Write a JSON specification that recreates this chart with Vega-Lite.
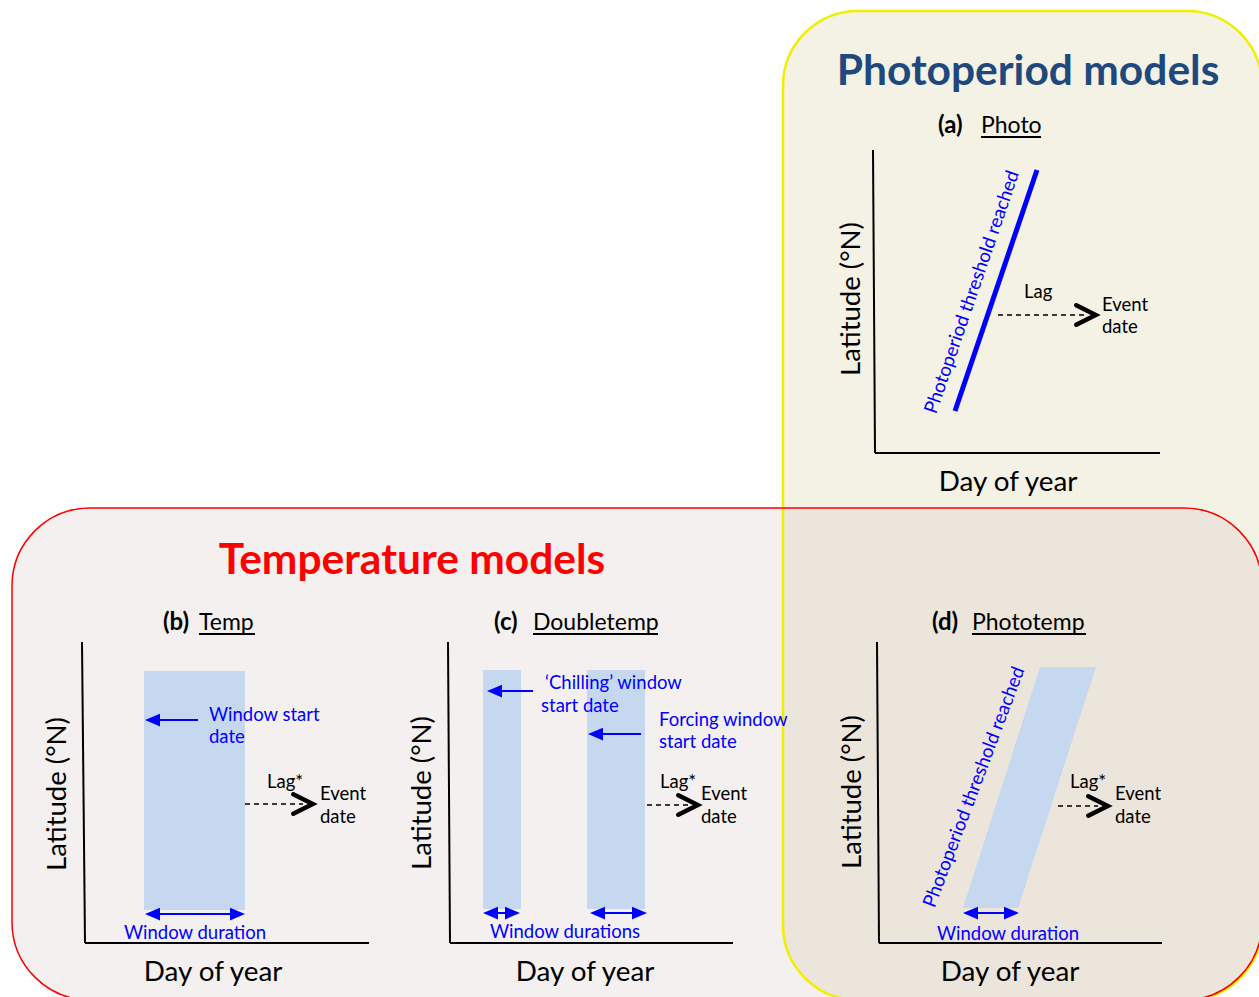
{
  "$schema": "https://vega.github.io/schema/vega-lite/v6.json",
  "width": 1259,
  "height": 997,
  "padding": 0,
  "autosize": "none",
  "background": "white",
  "config": {"view": {"stroke": null}, "text": {"font": "Lato"}},
  "datasets": {
    "boxY": [{"x": 783, "y": 11, "x2": 1262, "y2": 1000}],
    "boxR": [{"x": 12, "y": 508, "x2": 1262, "y2": 1000}],
    "axes": [
      {"x": 873, "y": 150, "x2": 875, "y2": 453}, {"x": 875, "y": 453, "x2": 1160, "y2": 453},
      {"x": 82, "y": 642, "x2": 85, "y2": 943}, {"x": 85, "y": 943, "x2": 369, "y2": 943},
      {"x": 448, "y": 642, "x2": 450, "y2": 943}, {"x": 450, "y": 943, "x2": 733, "y2": 943},
      {"x": 877, "y": 642, "x2": 879, "y2": 943}, {"x": 879, "y": 943, "x2": 1162, "y2": 943}
    ],
    "bars": [
      {"x": 144, "y": 671, "x2": 245, "y2": 910},
      {"x": 483, "y": 670, "x2": 521, "y2": 909},
      {"x": 587, "y": 670, "x2": 645, "y2": 909}
    ],
    "para": [{"y": 667, "x": 1040, "x2": 1096}, {"y": 908, "x": 963, "x2": 1018}],
    "photoLine": [{"x": 955, "y": 411, "x2": 1037, "y2": 170}],
    "dash": [
      {"x": 998, "y": 315, "x2": 1086, "y2": 315},
      {"x": 245, "y": 804, "x2": 303, "y2": 804},
      {"x": 647, "y": 805, "x2": 688, "y2": 805},
      {"x": 1058, "y": 806, "x2": 1098, "y2": 806}
    ],
    "chev": [{"x": 1086, "y": 315}, {"x": 303, "y": 804}, {"x": 688, "y": 805}, {"x": 1098, "y": 806}],
    "blueLines": [
      {"x": 150, "y": 720, "x2": 198, "y2": 720},
      {"x": 490, "y": 691, "x2": 533, "y2": 691},
      {"x": 592, "y": 734, "x2": 641, "y2": 734},
      {"x": 148, "y": 914, "x2": 242, "y2": 914},
      {"x": 486, "y": 913, "x2": 517, "y2": 913},
      {"x": 593, "y": 913, "x2": 644, "y2": 913},
      {"x": 966, "y": 913, "x2": 1016, "y2": 913}
    ],
    "headL": [
      {"x": 152.5, "y": 720}, {"x": 494.5, "y": 691}, {"x": 595.5, "y": 734},
      {"x": 152.5, "y": 914}, {"x": 490.5, "y": 913}, {"x": 597.5, "y": 913}, {"x": 970.5, "y": 913}
    ],
    "headR": [{"x": 237.5, "y": 914}, {"x": 512.5, "y": 913}, {"x": 639.5, "y": 913}, {"x": 1011.5, "y": 913}],
    "blackText": [
      {"x": 1024, "y": 292, "t": "Lag"}, {"x": 1102, "y": 305, "t": "Event"}, {"x": 1102, "y": 327, "t": "date"},
      {"x": 267, "y": 782, "t": "Lag*"}, {"x": 320, "y": 794, "t": "Event"}, {"x": 320, "y": 817, "t": "date"},
      {"x": 660, "y": 782, "t": "Lag*"}, {"x": 701, "y": 794, "t": "Event"}, {"x": 701, "y": 817, "t": "date"},
      {"x": 1070, "y": 782, "t": "Lag*"}, {"x": 1115, "y": 794, "t": "Event"}, {"x": 1115, "y": 817, "t": "date"}
    ],
    "blueText": [
      {"x": 209, "y": 715, "t": "Window start"}, {"x": 209, "y": 737, "t": "date"},
      {"x": 545, "y": 683, "t": "‘Chilling’ window"}, {"x": 541, "y": 706, "t": "start date"},
      {"x": 659, "y": 720, "t": "Forcing window"}, {"x": 659, "y": 742, "t": "start date"},
      {"x": 124, "y": 933, "t": "Window duration"},
      {"x": 490, "y": 932, "t": "Window durations"},
      {"x": 937, "y": 934, "t": "Window duration"}
    ],
    "axisX": [
      {"x": 1008, "y": 483, "t": "Day of year"}, {"x": 213, "y": 973, "t": "Day of year"},
      {"x": 585, "y": 973, "t": "Day of year"}, {"x": 1010, "y": 973, "t": "Day of year"}
    ],
    "axisY": [
      {"x": 852, "y": 299, "t": "Latitude (°N)"}, {"x": 58, "y": 794, "t": "Latitude (°N)"},
      {"x": 423, "y": 793, "t": "Latitude (°N)"}, {"x": 853, "y": 792, "t": "Latitude (°N)"}
    ],
    "panLab": [
      {"x": 938, "y": 126, "t": "(a)"}, {"x": 163, "y": 623, "t": "(b)"},
      {"x": 494, "y": 623, "t": "(c)"}, {"x": 932, "y": 623, "t": "(d)"}
    ],
    "panName": [
      {"x": 981, "y": 126, "t": "Photo"}, {"x": 199, "y": 623, "t": "Temp"},
      {"x": 533, "y": 623, "t": "Doubletemp"}, {"x": 972, "y": 623, "t": "Phototemp"}
    ],
    "underline": [
      {"x": 981, "y": 137, "x2": 1041, "y2": 137}, {"x": 199, "y": 634, "x2": 255, "y2": 634},
      {"x": 533, "y": 634, "x2": 658, "y2": 634}, {"x": 972, "y": 634, "x2": 1086, "y2": 634}
    ],
    "rot1": [{"x": 972, "y": 292, "t": "Photoperiod threshold reached"}],
    "rot2": [{"x": 974, "y": 787, "t": "Photoperiod threshold reached"}],
    "title1": [{"x": 1028, "y": 72, "t": "Photoperiod models"}],
    "title2": [{"x": 412, "y": 561, "t": "Temperature models"}]
  },
  "encoding": {
    "x": {"field": "x", "type": "quantitative", "scale": {"domain": [0, 1259], "nice": false, "zero": false}, "axis": null},
    "y": {"field": "y", "type": "quantitative", "scale": {"domain": [0, 997], "nice": false, "zero": false, "reverse": true}, "axis": null}
  },
  "layer": [
    {"data": {"name": "boxY"}, "mark": {"type": "rect", "fill": "#f4f1e5", "cornerRadius": 75},
     "encoding": {"x2": {"field": "x2"}, "y2": {"field": "y2"}}},
    {"data": {"name": "boxR"}, "mark": {"type": "rect", "fill": "#cfc3bf", "fillOpacity": 0.25, "cornerRadius": 78},
     "encoding": {"x2": {"field": "x2"}, "y2": {"field": "y2"}}},
    {"data": {"name": "boxY"}, "mark": {"type": "rect", "fill": null, "fillOpacity": 0, "stroke": "#f2ee00", "strokeWidth": 2.5, "cornerRadius": 75},
     "encoding": {"x2": {"field": "x2"}, "y2": {"field": "y2"}}},
    {"data": {"name": "boxR"}, "mark": {"type": "rect", "fill": null, "fillOpacity": 0, "stroke": "#ff0000", "strokeWidth": 1.5, "cornerRadius": 78},
     "encoding": {"x2": {"field": "x2"}, "y2": {"field": "y2"}}},
    {"data": {"name": "bars"}, "mark": {"type": "rect", "fill": "#c6d8f0"},
     "encoding": {"x2": {"field": "x2"}, "y2": {"field": "y2"}}},
    {"data": {"name": "para"}, "mark": {"type": "area", "orient": "horizontal", "fill": "#c6d8f0"},
     "encoding": {"x2": {"field": "x2"}}},
    {"data": {"name": "axes"}, "mark": {"type": "rule", "color": "#000000", "strokeWidth": 2},
     "encoding": {"x2": {"field": "x2"}, "y2": {"field": "y2"}}},
    {"data": {"name": "photoLine"}, "mark": {"type": "rule", "color": "#0000ff", "strokeWidth": 5},
     "encoding": {"x2": {"field": "x2"}, "y2": {"field": "y2"}}},
    {"data": {"name": "dash"}, "mark": {"type": "rule", "color": "#000000", "strokeWidth": 1.6, "strokeDash": [5, 4]},
     "encoding": {"x2": {"field": "x2"}, "y2": {"field": "y2"}}},
    {"data": {"name": "chev"}, "mark": {"type": "point", "shape": "M-1,-1L1,0L-1,1", "filled": false, "size": 380, "stroke": "#000000", "strokeWidth": 4.5, "strokeJoin": "miter", "strokeCap": "round", "opacity": 1}},
    {"data": {"name": "blueLines"}, "mark": {"type": "rule", "color": "#0000ff", "strokeWidth": 2},
     "encoding": {"x2": {"field": "x2"}, "y2": {"field": "y2"}}},
    {"data": {"name": "headL"}, "mark": {"type": "point", "shape": "M-1,0L1,-0.85L1,0.85Z", "filled": true, "size": 225, "fill": "#0000ff", "opacity": 1}},
    {"data": {"name": "headR"}, "mark": {"type": "point", "shape": "M1,0L-1,-0.85L-1,0.85Z", "filled": true, "size": 225, "fill": "#0000ff", "opacity": 1}},
    {"data": {"name": "blackText"}, "mark": {"type": "text", "align": "left", "baseline": "middle", "fontSize": 18.5, "color": "#000000"},
     "encoding": {"text": {"field": "t"}}},
    {"data": {"name": "blueText"}, "mark": {"type": "text", "align": "left", "baseline": "middle", "fontSize": 18.5, "color": "#0000ff"},
     "encoding": {"text": {"field": "t"}}},
    {"data": {"name": "axisX"}, "mark": {"type": "text", "align": "center", "baseline": "middle", "fontSize": 27.8, "color": "#000000"},
     "encoding": {"text": {"field": "t"}}},
    {"data": {"name": "axisY"}, "mark": {"type": "text", "align": "center", "baseline": "middle", "fontSize": 27.5, "angle": 270, "color": "#000000"},
     "encoding": {"text": {"field": "t"}}},
    {"data": {"name": "panLab"}, "mark": {"type": "text", "align": "left", "baseline": "middle", "fontSize": 24, "fontWeight": "bold", "color": "#000000"},
     "encoding": {"text": {"field": "t"}}},
    {"data": {"name": "panName"}, "mark": {"type": "text", "align": "left", "baseline": "middle", "fontSize": 23, "color": "#000000"},
     "encoding": {"text": {"field": "t"}}},
    {"data": {"name": "underline"}, "mark": {"type": "rule", "color": "#000000", "strokeWidth": 2},
     "encoding": {"x2": {"field": "x2"}, "y2": {"field": "y2"}}},
    {"data": {"name": "rot1"}, "mark": {"type": "text", "align": "center", "baseline": "middle", "fontSize": 18.8, "angle": -71, "color": "#0000ff"},
     "encoding": {"text": {"field": "t"}}},
    {"data": {"name": "rot2"}, "mark": {"type": "text", "align": "center", "baseline": "middle", "fontSize": 18.8, "angle": -69.3, "color": "#0000ff"},
     "encoding": {"text": {"field": "t"}}},
    {"data": {"name": "title1"}, "mark": {"type": "text", "align": "center", "baseline": "middle", "fontSize": 42.5, "fontWeight": "bold", "color": "#1f497d"},
     "encoding": {"text": {"field": "t"}}},
    {"data": {"name": "title2"}, "mark": {"type": "text", "align": "center", "baseline": "middle", "fontSize": 42.5, "fontWeight": "bold", "color": "#ff0000"},
     "encoding": {"text": {"field": "t"}}}
  ]
}
